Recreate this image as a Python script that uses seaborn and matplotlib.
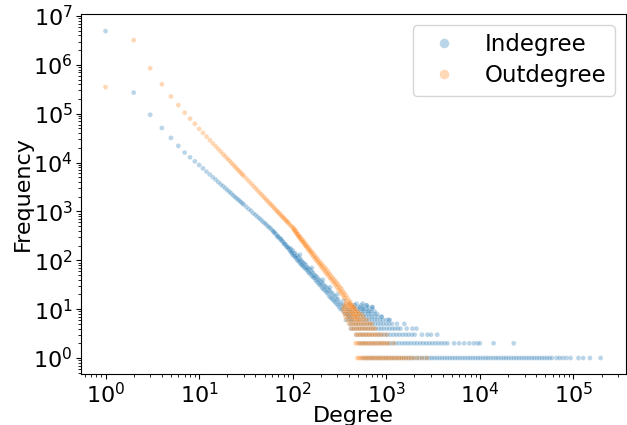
import matplotlib
matplotlib.use("Agg")
import matplotlib.pyplot as plt
from matplotlib.ticker import LogLocator
import pandas as pd
import seaborn as sns

# ---------------- Indegree (blue) ----------------
in_diag_deg = [1, 2, 3, 4, 5, 6, 7, 8, 9, 10, 11, 12, 13, 14, 15, 16, 17, 18, 19, 20,
               21, 22, 23, 24, 25, 26, 27, 28, 29, 30, 32, 34, 36, 38, 40, 42, 44, 46, 48, 50,
               52, 54, 56, 58, 60, 62, 63, 64, 66, 68, 69, 70, 72, 74, 75, 76, 78, 80, 81, 82,
               84, 86, 87, 88, 90, 92, 93]
in_diag_freq = [4900000, 270000, 95000, 51000, 32000, 22000, 16000, 12800, 10600, 8900,
                7600, 6500, 5700, 5000, 4500, 4000, 3600, 3300, 3000, 2750,
                2520, 2350, 2150, 2000, 1870, 1760, 1650, 1560, 1460, 1380, 1240, 1110, 1020, 910,
                850, 780, 720, 670, 615, 575, 545, 500, 475, 450, 415, 395, 380, 360, 350, 318,
                300, 310, 285, 275, 270, 250, 245, 232, 215, 215, 210, 192, 185, 190, 178, 170, 160]

# noisy part of the in-degree curve: two readings per degree (upper, lower)
in_band_deg = [95, 98, 100, 103, 106, 109, 112, 115, 118, 121, 124, 127, 130, 134, 138,
               142, 146, 150, 155, 160, 165, 170, 175, 180, 186, 192, 198, 204, 211, 218,
               225, 232, 240, 248, 256, 265, 274, 283, 293, 303, 314, 325, 337, 349, 362,
               375, 389, 403, 418]
in_band_hi = [175, 150, 160, 138, 140, 120, 125, 115, 104, 105, 96, 92, 88, 84, 80,
              72, 70, 66, 63, 58, 55, 50, 48, 46, 42, 40, 37, 35, 33, 30,
              29, 27, 25, 24, 22, 21, 19, 18, 16, 16, 14, 13, 12, 12, 11,
              10, 10, 9, 8]
in_band_lo = [150, 140, 128, 125, 115, 112, 100, 98, 92, 85, 82, 78, 74, 70, 66,
              64, 58, 55, 52, 48, 45, 44, 40, 37, 35, 32, 31, 28, 26, 25,
              23, 22, 20, 18, 17, 16, 15, 14, 13, 12, 11, 10, 10, 9, 8,
              8, 7, 7, 6]
in_out_deg = [120, 160, 210, 250, 300, 350, 400, 450, 500, 560, 620, 710, 650, 890, 1070]
in_out_freq = [130, 70, 40, 28, 20, 15, 13, 12, 11, 10, 12, 11, 9, 7, 6]

# horizontal rows of the in-degree tail (degrees observed at each small frequency)
in_f1 = [560, 600, 640, 680, 720, 770, 820, 870, 930, 990, 1050, 1120, 1190, 1270, 1350,
         1440, 1530, 1630, 1740, 1850, 1970, 2100, 2240, 2380, 2540, 2700, 2880, 3060, 3260,
         3470, 3700, 3940, 4200, 4470, 4760, 5070, 5400, 5750, 6120, 6520, 6950, 7400, 7880,
         8390, 8940, 9520, 10100, 10800, 11500, 12200, 13000, 13900, 14800, 15700, 16800,
         17900, 19000, 20200, 21600, 23000, 24500, 26100, 27800, 29600, 31500, 33500, 35700,
         38000, 40500, 43100, 45900, 48900, 52100, 55500, 59000, 66000, 71000, 77000, 84000,
         93000, 113000, 127000, 150000, 195000]
in_f2 = [520, 560, 600, 650, 700, 750, 810, 870, 940, 1010, 1090, 1170, 1260, 1360, 1470,
         1580, 1700, 1830, 1980, 2130, 2300, 2480, 2670, 2880, 3100, 3340, 3600, 3880, 4180,
         4500, 5300, 6000, 6800, 7700, 8600, 9400, 10000, 14000, 23000]
in_f3 = [480, 520, 560, 600, 650, 700, 760, 820, 880, 950, 1020, 1100, 1190, 1280, 1380,
         1490, 1610, 1730, 1870, 2010, 2400, 2750, 3000, 3500]
in_f4 = [420, 450, 480, 515, 550, 590, 630, 675, 720, 770, 825, 880, 940, 1010, 1080, 1160,
         1240, 1330, 1420, 1650, 1900, 2100]
in_f5 = [410, 440, 470, 505, 540, 580, 620, 665, 710, 760, 815, 870, 930, 1000, 1070, 1150,
         1300, 1560]
in_f6 = [370, 400, 430, 460, 495, 530, 570, 610, 655, 700, 750, 800, 860, 920, 1000, 1080]
in_f7 = [400, 430, 460, 495, 530, 570, 610, 655, 700, 750, 810, 890]
in_f8 = [380, 410, 440, 475, 510, 550, 590, 640, 690, 750, 800]
in_f9 = [400, 430, 465, 500, 540, 580, 630, 680, 750]
in_f10 = [420, 450, 490, 530, 570, 620, 700]
in_f11 = [450, 520, 570, 640, 710]
in_f12 = [460, 540, 610]
in_f13 = [480, 560]

# ---------------- Outdegree (orange) ----------------
out_diag_deg = [1, 2, 3, 4, 5, 6, 7, 8, 9, 10, 11, 12, 13, 14, 15, 16, 17, 18, 19, 20,
                21, 22, 23, 24, 25, 26, 27, 28, 29, 30, 32, 34, 36, 38, 40, 42, 44, 46, 48, 50,
                52, 54, 56, 58, 60, 62, 64, 66, 68, 70, 72, 74, 76, 78, 80, 82, 84, 86, 88, 90,
                93, 96, 99]
out_diag_freq = [350000, 3200000, 850000, 400000, 225000, 150000, 105000, 79000, 62000, 49000,
                 40500, 34000, 28800, 24800, 21600, 19000, 16800, 14900, 13400, 12100,
                 11000, 10000, 9100, 8400, 7700, 7100, 6600, 6100, 5700, 5300, 4700, 4150, 3700,
                 3300, 3000, 2700, 2450, 2250, 2050, 1900, 1750, 1620, 1500, 1410, 1320, 1230,
                 1150, 1080, 1010, 960, 910, 860, 810, 770, 735, 700, 665, 635, 605, 580,
                 540, 505, 480]
out_band_deg = [102, 105, 108, 111, 114, 117, 120, 124, 128, 132, 136, 140, 145, 150, 155,
                160, 166, 172, 178, 185, 192, 199, 206, 214, 222, 230, 239, 248, 257, 267,
                277, 287, 298, 309, 320, 332, 344, 357, 370, 384, 398, 413, 428, 444, 460,
                477, 495]
out_band_hi = [460, 425, 395, 365, 340, 315, 300, 275, 260, 240, 222, 205, 190, 175, 160,
               148, 138, 125, 115, 106, 96, 88, 82, 75, 69, 64, 58, 53, 48, 44,
               40, 37, 34, 31, 28, 26, 23, 21, 19, 17, 15, 14, 12, 11, 10,
               9, 8]
out_band_lo = [430, 405, 370, 345, 318, 298, 275, 252, 238, 218, 200, 188, 170, 158, 145,
               132, 120, 110, 100, 92, 84, 77, 70, 64, 58, 53, 49, 44, 41, 37,
               34, 31, 28, 25, 23, 21, 19, 17, 15, 13, 12, 11, 9, 8, 7,
               7, 6]

out_f1 = [490, 510, 530, 555, 580, 605, 630, 660, 690, 720, 750, 785, 820, 860, 900, 940,
          985, 1030, 1080, 1130, 1190, 1250, 1310, 1380, 1450, 1530, 1620, 1720, 1830, 1960,
          2150, 2400, 2700]
out_f2 = [470, 490, 515, 540, 565, 590, 620, 650, 680, 715, 750, 790, 830, 870, 910, 960,
          1010, 1070, 1200]
out_f3 = [475, 500, 525, 550, 580, 610, 640, 675, 710, 750, 790, 840, 900, 1000]
out_f4 = [420, 445, 470, 495, 520, 550, 580, 610, 645, 680, 720, 760]
out_f5 = [400, 425, 450, 475, 500, 530, 560, 595, 630, 665, 700]
out_f6 = [380, 405, 430, 455, 485, 515, 545, 580, 620]
out_f7 = [365, 390, 415, 440, 470, 500, 535, 570]
out_f8 = [360, 385, 410, 440, 470, 505, 540]
out_f9 = [350, 375, 400, 430, 460, 495]
out_f10 = [345, 372, 400, 430, 465]
out_f11 = [350, 380, 420, 450]
out_f12 = [360, 395, 430]
out_f13 = [370, 410]

series_labels = ["Indegree", "Outdegree"]


def collect(label, diag_deg, diag_freq, band_deg, band_hi, band_lo, extra_deg, extra_freq, rows):
    deg, freq = [], []
    deg += diag_deg
    freq += diag_freq
    deg += band_deg + band_deg
    freq += band_hi + band_lo
    deg += extra_deg
    freq += extra_freq
    for f, ds in rows.items():
        deg += ds
        freq += [f] * len(ds)
    return pd.DataFrame({"Degree": deg, "Frequency": freq, "Type": label})


in_rows = {1: in_f1, 2: in_f2, 3: in_f3, 4: in_f4, 5: in_f5, 6: in_f6, 7: in_f7, 8: in_f8,
           9: in_f9, 10: in_f10, 11: in_f11, 12: in_f12, 13: in_f13}
out_rows = {1: out_f1, 2: out_f2, 3: out_f3, 4: out_f4, 5: out_f5, 6: out_f6, 7: out_f7,
            8: out_f8, 9: out_f9, 10: out_f10, 11: out_f11, 12: out_f12, 13: out_f13}

df = pd.concat([
    collect(series_labels[0], in_diag_deg, in_diag_freq, in_band_deg, in_band_hi, in_band_lo,
            in_out_deg, in_out_freq, in_rows),
    collect(series_labels[1], out_diag_deg, out_diag_freq, out_band_deg, out_band_hi,
            out_band_lo, [], [], out_rows),
], ignore_index=True)

FS = 16

plt.rcParams["font.family"] = ["DejaVu Sans"]
plt.rcParams["font.size"] = FS

fig = plt.figure(figsize=(6.27, 4.25), dpi=100)
ax = fig.add_axes([81 / 627, 1 - 374 / 425, (626 - 81) / 627, (374 - 14) / 425])
sns.scatterplot(data=df, x="Degree", y="Frequency", hue="Type", alpha=0.3, s=12, ax=ax)
ax.set_xscale("log")
ax.set_yscale("log")
ax.set_xlim(10 ** -0.262, 10 ** 5.561)
ax.set_ylim(10 ** -0.327, 10 ** 7.04)
ax.yaxis.set_major_locator(LogLocator(base=10, numticks=20))
ax.yaxis.set_minor_locator(LogLocator(base=10, subs=[2, 3, 4, 5, 6, 7, 8, 9], numticks=20))
ax.xaxis.set_major_locator(LogLocator(base=10, numticks=20))
ax.xaxis.set_minor_locator(LogLocator(base=10, subs=[2, 3, 4, 5, 6, 7, 8, 9], numticks=20))
ax.set_xlabel("Degree", fontsize=FS, labelpad=-1)
ax.set_ylabel("Frequency", fontsize=FS, labelpad=0)
ax.tick_params(labelsize=FS, pad=2.5)
handles, labels = ax.get_legend_handles_labels()
ax.legend(handles, labels, loc="upper right", fontsize=FS + 0.5, markerscale=2.0,
          labelspacing=0.35, borderpad=0.35)
fig.savefig("out.png", dpi=100)
